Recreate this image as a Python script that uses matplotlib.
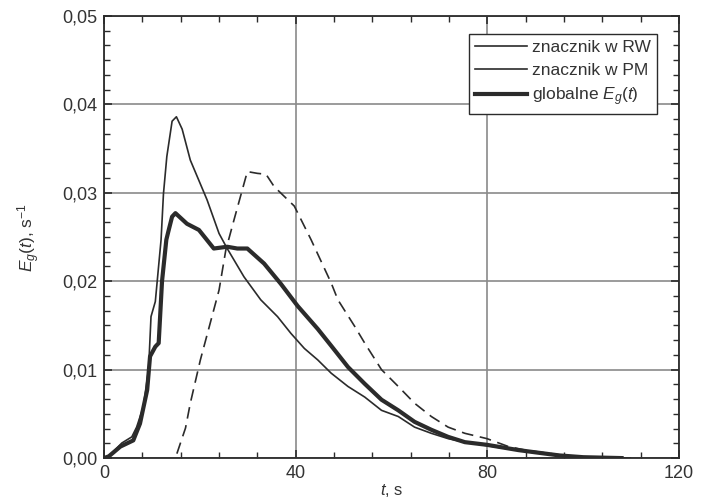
import matplotlib

matplotlib.use("Agg")
import matplotlib.pyplot as plt
from matplotlib.lines import Line2D
from matplotlib.ticker import AutoMinorLocator, FuncFormatter, MultipleLocator

plt.rcParams["font.family"] = ["Liberation Sans", "DejaVu Sans"]
plt.rcParams["mathtext.fontset"] = "custom"
plt.rcParams["mathtext.rm"] = "Liberation Sans"
plt.rcParams["mathtext.it"] = "Liberation Sans:italic"

# tracer in RW (thin solid)
t_rw = [0, 1, 3.7, 5.8, 6.8, 8.2, 9.3, 9.8, 10.7, 11.9, 12.4, 13.1, 14.2, 15.1,
        16.3, 18, 21.5, 24, 25.7, 29.2, 32.7, 36.2, 39, 41.8, 44.6, 47.4, 50.9,
        54.4, 57.9, 61.4, 64.8, 68.3, 71.8, 75.3, 80, 86, 90, 95, 100, 108]
e_rw = [0, 0.0002, 0.0017, 0.0024, 0.0035, 0.0058, 0.0101, 0.016, 0.0177,
        0.0247, 0.0299, 0.0341, 0.0381, 0.0386, 0.0372, 0.0337, 0.0292, 0.0254,
        0.0237, 0.0205, 0.0179, 0.016, 0.0141, 0.0124, 0.0111, 0.0096, 0.0081,
        0.0069, 0.0054, 0.0047, 0.0035, 0.0028, 0.0022, 0.0018, 0.0014, 0.0009,
        0.0006, 0.0003, 0.0001, 0.0]

# tracer in PM (dashed)
t_pm = [15.2, 17, 18, 20.1, 24, 25.4, 27.1, 29.9, 32, 33.8, 35.5, 37.6, 39.7,
        43.2, 47.4, 48.8, 52.3, 54.4, 57.9, 61.4, 64.8, 68.3, 71.8, 75.3, 79.9,
        84.4, 87.9, 92, 96, 100, 110]
e_pm = [0.0005, 0.0034, 0.0062, 0.0111, 0.019, 0.0235, 0.0269, 0.0324, 0.0322,
        0.0321, 0.0307, 0.0296, 0.0285, 0.0247, 0.0198, 0.0179, 0.0149, 0.013,
        0.01, 0.0081, 0.0062, 0.0047, 0.0035, 0.0028, 0.0022, 0.0013, 0.0009,
        0.0006, 0.0003, 0.0001, 0.0]

# global E_g(t) (thick solid)
t_gl = [0, 1, 3.4, 6.1, 7.5, 9, 9.6, 10.7, 11.4, 12.1, 13, 13.5, 14.2, 14.9,
        17.3, 19.8, 22.9, 25.7, 27.8, 29.9, 33.4, 36.9, 40.4, 44.6, 47.4,
        50.9, 54.4, 57.9, 61.4, 64.8, 68.3, 71.8, 75.3, 79.9, 86.5, 89.3, 95,
        100, 108]
e_gl = [0, 0.0002, 0.0013, 0.002, 0.0039, 0.0077, 0.0115, 0.0126, 0.013, 0.02,
        0.0247, 0.0258, 0.0273, 0.0277, 0.0265, 0.0258, 0.0237, 0.0239,
        0.0237, 0.0237, 0.022, 0.0197, 0.0172, 0.0146, 0.0127, 0.0103, 0.0084,
        0.0066, 0.0054, 0.0041, 0.0032, 0.0024, 0.0018, 0.0015, 0.0009, 0.0007,
        0.0003, 0.0001, 0.0]

labels = ["znacznik w RW", "znacznik w PM", "globalne $E_g(t)$"]

ink = "#2b2b2b"
fig = plt.figure(figsize=(7.03, 4.99), dpi=100)
ax = fig.add_axes([0.148, 0.082, 0.818, 0.886])

ax.plot(t_rw, e_rw, color=ink, lw=1.2)
ax.plot(t_pm, e_pm, color=ink, lw=1.2, dashes=(7, 4))
ax.plot(t_gl, e_gl, color=ink, lw=3.0)

ax.set_xlim(0, 120)
ax.set_ylim(0, 0.05)
ax.xaxis.set_major_locator(MultipleLocator(40))
ax.xaxis.set_minor_locator(AutoMinorLocator(5))
ax.yaxis.set_major_locator(MultipleLocator(0.01))
ax.yaxis.set_minor_locator(AutoMinorLocator(6))
ax.yaxis.set_major_formatter(FuncFormatter(lambda v, p: f"{v:.2f}".replace(".", ",")))
ax.xaxis.set_major_formatter(FuncFormatter(lambda v, p: f"{v:.0f}"))
ax.grid(True, which="major", color="#8a8a8a", lw=1.2)
ax.tick_params(which="both", direction="in", top=True, right=True, colors=ink,
               labelsize=13, labelcolor="#333333")
ax.tick_params(which="major", length=6, width=1.2, pad=5)
ax.tick_params(which="minor", length=4, width=1.0)
for s in ax.spines.values():
    s.set_color(ink)
    s.set_linewidth(1.3)

ax.set_xlabel("$t$, s", fontsize=12, color="#333333", labelpad=0)
ax.set_ylabel("$E_g(t)$, s$^{-1}$", fontsize=12.5, color="#333333", labelpad=14)

handles = [Line2D([], [], color=ink, lw=1.2),
           Line2D([], [], color=ink, lw=1.2),
           Line2D([], [], color=ink, lw=3.0)]
leg = ax.legend(handles, labels, loc="upper right", bbox_to_anchor=(0.962, 0.96),
                fontsize=12.5, frameon=True, fancybox=False, framealpha=1,
                edgecolor=ink, handlelength=3.0, handletextpad=0.3,
                labelspacing=0.45, borderpad=0.35, borderaxespad=0)
leg.get_frame().set_linewidth(1.0)
for txt in leg.get_texts():
    txt.set_color("#333333")

fig.savefig("out.png", dpi=100)
